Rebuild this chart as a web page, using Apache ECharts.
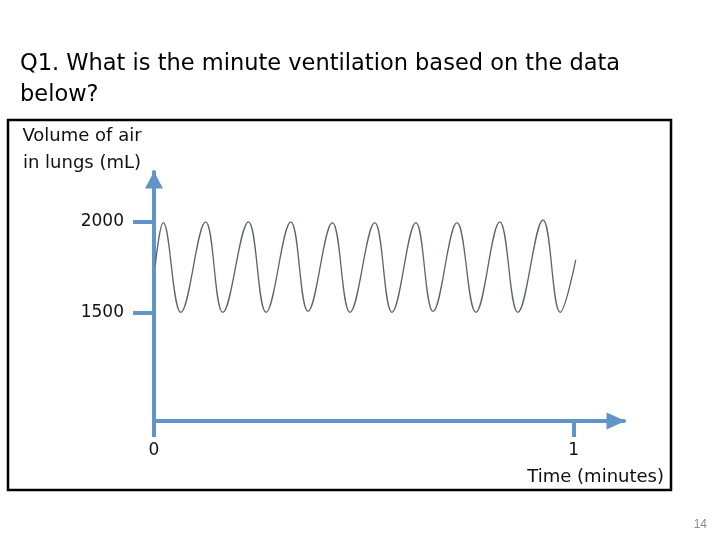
<!DOCTYPE html>
<html>
<head>
<meta charset="utf-8">
<script src="https://cdn.jsdelivr.net/npm/echarts@6/dist/echarts.min.js"></script>
<style>
  html, body { margin: 0; padding: 0; background: #fff; }
  #chart { width: 720px; height: 540px; }
</style>
</head>
<body>
<div id="chart"></div>
<script>
// time in minutes, volume of air in mL (peaks and troughs)
const times = [0.003, 0.022, 0.064, 0.123, 0.164, 0.225, 0.267, 0.326, 0.367, 0.425,
  0.467, 0.526, 0.567, 0.624, 0.665, 0.722, 0.767, 0.824, 0.867, 0.927,
  0.968, 1.005];
const volumes = [1760, 1995, 1500, 2000, 1500, 2000, 1500, 2000, 1505, 1995,
  1500, 1995, 1500, 1995, 1505, 1995, 1500, 2000, 1500, 2010,
  1500, 1790];
const yTicks = [1500, 2000];
const xTicks = [0, 1];

const axisBlue = '#6195c8';
const labelFont = 'DejaVu Sans';

const chart = echarts.init(document.getElementById('chart'));

const option = {
  animation: false,
  backgroundColor: '#fff',
  title: {
    text: 'Q1. What is the minute ventilation based on the data\nbelow?',
    left: 15,
    top: 44,
    textStyle: {
      fontFamily: 'DejaVu Sans',
      fontSize: 22.5,
      fontWeight: 'normal',
      color: '#000',
      lineHeight: 31
    }
  },
  grid: { left: 154, right: 96, top: 172, bottom: 119 },
  xAxis: {
    type: 'value',
    min: 0,
    max: 1.12,
    axisLine: {
      show: true,
      symbol: ['none', 'triangle'],
      symbolSize: [17, 19],
      symbolOffset: [0, -8],
      lineStyle: { color: axisBlue, width: 4 }
    },
    axisTick: {
      show: true,
      customValues: xTicks,
      length: 16,
      inside: false,
      lineStyle: { color: axisBlue, width: 4 }
    },
    axisLabel: {
      customValues: xTicks,
      margin: 21,
      fontFamily: labelFont,
      fontSize: 17,
      color: '#111'
    },
    splitLine: { show: false }
  },
  yAxis: {
    type: 'value',
    min: 900,
    max: 2275,
    axisLine: {
      show: true,
      symbol: ['none', 'triangle'],
      symbolSize: [18, 17],
      symbolOffset: [0, -8],
      lineStyle: { color: axisBlue, width: 4 }
    },
    axisTick: {
      show: true,
      customValues: yTicks,
      length: 21,
      lineStyle: { color: axisBlue, width: 4 }
    },
    axisLabel: {
      customValues: yTicks,
      formatter: v => String(v),
      margin: 30,
      fontFamily: labelFont,
      fontSize: 17,
      color: '#111'
    },
    splitLine: { show: false }
  },
  series: [{
    type: 'line',
    data: times.map((t, i) => [t, volumes[i]]),
    showSymbol: false,
    smooth: 0.4,
    lineStyle: { color: '#5a6470', width: 1.3 }
  }],
  graphic: [
    {
      type: 'rect',
      shape: { x: 8, y: 120, width: 663, height: 370 },
      style: { fill: 'none', stroke: '#000', lineWidth: 2.5 },
      z: -1
    },
    {
      type: 'text',
      style: {
        text: 'Volume of air\nin lungs (mL)',
        x: 82, y: 150,
        font: '18px "DejaVu Sans"',
        fill: '#111',
        lineHeight: 27,
        align: 'center', textAlign: 'center',
        verticalAlign: 'middle', textVerticalAlign: 'middle'
      }
    },
    {
      type: 'text',
      style: {
        text: 'Time (minutes)',
        x: 664, y: 477,
        font: '18px "DejaVu Sans"',
        fill: '#111',
        align: 'right', textAlign: 'right',
        verticalAlign: 'middle', textVerticalAlign: 'middle'
      }
    },
    {
      type: 'text',
      style: {
        text: '14',
        x: 707, y: 525,
        font: '12px "Liberation Sans Narrow", "Liberation Sans"',
        fill: '#8c8c8c',
        align: 'right', textAlign: 'right',
        verticalAlign: 'middle', textVerticalAlign: 'middle'
      }
    }
  ]
};

chart.setOption(option);
</script>
</body>
</html>
